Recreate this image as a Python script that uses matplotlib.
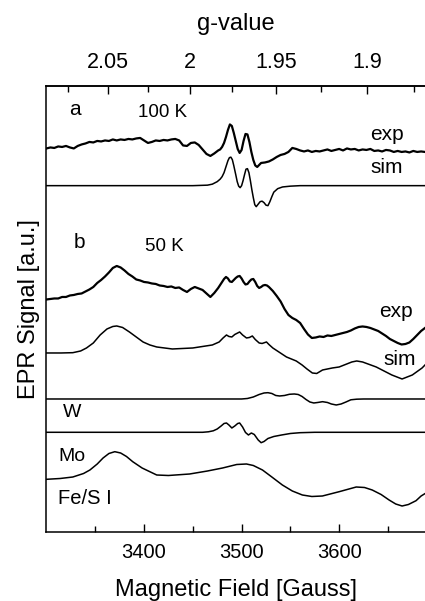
"""Stacked EPR spectra: 100 K and 50 K experiment vs. simulation, with components."""

from __future__ import annotations

import matplotlib

matplotlib.use("Agg")

import matplotlib.pyplot as plt
import numpy as np

# g = G_CONST / field  (Gauss)
G_CONST = 6894.0

# --- a: 100 K, values in a.u. above each trace's own zero level -------------
field_a_exp = [
    3300, 3304, 3308, 3312, 3316, 3320, 3324, 3328, 3332, 3336, 3340, 3344,
    3348, 3352, 3356, 3360, 3364, 3368, 3372, 3376, 3380, 3384, 3388, 3392,
    3396, 3400, 3404, 3408, 3412, 3416, 3420, 3424, 3428, 3432, 3436, 3440,
    3444, 3448, 3452, 3456, 3460, 3464, 3468, 3472, 3476, 3478, 3480, 3482,
    3484, 3486, 3488, 3490, 3492, 3494, 3496, 3498, 3500, 3502, 3504, 3506,
    3508, 3510, 3512, 3514, 3516, 3518, 3520, 3524, 3528, 3532, 3536, 3540,
    3544, 3548, 3552, 3556, 3560, 3564, 3568, 3572, 3576, 3580, 3584, 3588,
    3592, 3596, 3600, 3604, 3608, 3612, 3616, 3620, 3624, 3628, 3632, 3636,
    3640, 3644, 3648, 3652, 3656, 3660, 3664, 3668, 3672, 3676, 3680, 3684,
    3688,
]
signal_a_exp = [
    1.5, 2.5, 2.0, 3.5, 3.0, 4.0, 2.5, 1.5, 4.0, 5.5, 6.5, 8.0,
    7.5, 9.0, 8.5, 9.5, 9.0, 10.5, 9.5, 10.5, 10.0, 11.0, 10.5, 11.5,
    12.0, 9.5, 7.0, 8.0, 9.5, 9.0, 10.0, 9.5, 10.5, 11.0, 9.5, 4.5,
    4.0, 7.0, 7.5, 5.0, 0.5, -4.0, -6.0, -3.5, -0.5, 0.5, 3.0, 7.0,
    13.0, 20.0, 25.5, 24.0, 17.0, 9.0, 1.0, -3.0, 0.0, 9.0, 16.0, 15.5,
    8.0, -2.0, -10.0, -15.5, -17.0, -15.0, -13.0, -12.5, -11.5, -9.5, -7.0, -5.0,
    -4.0, -2.0, 2.0, 1.0, -0.5, -1.5, -0.5, -2.0, -1.0, -1.5, -0.5, 0.5,
    -1.0, 0.0, 1.0, -0.5, 1.5, 0.5, 1.0, -0.5, 0.5, 0.0, 1.0, -1.0,
    -0.5, -1.5, 0.0, -0.5, -2.0, -1.0, -2.0, -1.5, -2.5, -1.0, -2.0, -1.5,
    -2.0,
]
field_a_sim = [
    3300, 3450, 3465, 3470, 3475, 3478, 3480, 3482, 3484, 3486, 3487.5, 3489,
    3490.5, 3492, 3494, 3495.5, 3497, 3498.5, 3500, 3501.5, 3503, 3504.5, 3506,
    3507.5, 3509, 3510.5, 3512, 3513.5, 3515, 3517, 3519, 3521, 3523, 3525,
    3527, 3529, 3531, 3533, 3537, 3542, 3550, 3560, 3688,
]
signal_a_sim = [
    0.0, 0.0, 0.5, 1.5, 4.0, 6.5, 9.0, 13.0, 19.0, 25.0, 28.0, 28.5,
    26.0, 20.0, 11.0, 4.0, -0.5, -2.0, 0.0, 5.0, 11.0, 16.5, 17.0,
    13.0, 5.0, -4.0, -12.0, -19.0, -21.0, -18.5, -16.0, -15.5, -17.0, -19.5,
    -20.0, -16.0, -11.0, -6.5, -3.0, -1.3, -0.5, 0.0, 0.0,
]

# --- b: 50 K ------------------------------------------------------------------
field_b_exp = [
    3300, 3304, 3308, 3312, 3316, 3320, 3324, 3328, 3332, 3336, 3340, 3344,
    3348, 3352, 3356, 3360, 3364, 3368, 3372, 3376, 3380, 3384, 3388, 3392,
    3396, 3400, 3404, 3408, 3412, 3416, 3420, 3424, 3428, 3432, 3436, 3440,
    3444, 3448, 3452, 3456, 3460, 3464, 3468, 3472, 3476, 3478, 3480, 3482,
    3484, 3486, 3488, 3490, 3492, 3494, 3496, 3498, 3500, 3502, 3504, 3506,
    3508, 3510, 3512, 3514, 3516, 3518, 3520, 3522, 3524, 3526, 3528, 3530,
    3532, 3536, 3540, 3544, 3548, 3552, 3556, 3560, 3564, 3568, 3572, 3576,
    3580, 3584, 3588, 3592, 3596, 3600, 3604, 3608, 3612, 3616, 3620, 3624,
    3628, 3632, 3636, 3640, 3644, 3648, 3652, 3656, 3660, 3664, 3668, 3672,
    3676, 3680, 3684, 3688,
]
signal_b_exp = [
    -0.5, 0.0, 0.5, 0.5, 2.0, 2.0, 3.5, 4.0, 5.0, 5.5, 7.5, 9.5,
    12.0, 16.0, 19.0, 22.5, 26.5, 31.0, 33.0, 31.5, 28.5, 25.0, 22.5, 19.5,
    18.5, 17.0, 16.5, 15.5, 15.0, 13.5, 13.0, 12.0, 12.5, 11.0, 11.5, 9.0,
    7.0, 10.0, 12.0, 10.5, 9.0, 5.5, 2.0, 6.0, 11.0, 14.0, 17.0, 20.0,
    22.0, 20.5, 17.5, 17.0, 19.0, 21.0, 22.5, 23.0, 20.5, 17.0, 14.5, 15.0,
    17.5, 19.5, 20.0, 17.0, 13.0, 11.0, 12.0, 13.5, 14.0, 13.5, 12.0, 10.0,
    8.0, 3.0, -2.5, -10.0, -16.0, -19.0, -21.0, -24.0, -30.0, -35.5, -39.0, -38.5,
    -37.5, -38.0, -36.5, -37.0, -36.0, -35.0, -34.0, -33.0, -31.5, -29.5, -28.0, -27.5,
    -28.0, -29.0, -30.5, -32.0, -34.5, -37.0, -40.0, -42.0, -44.0, -45.5, -45.0, -43.5,
    -40.0, -36.0, -32.0, -29.0,
]
field_b_sim = [
    3300, 3315, 3327, 3335, 3341, 3348, 3355, 3362, 3368, 3372, 3378, 3385,
    3392, 3399, 3406, 3413, 3429, 3450, 3470, 3477, 3481, 3484.5, 3487, 3490,
    3493, 3498, 3501, 3505, 3508, 3511, 3514, 3518, 3521, 3525.5, 3528, 3532,
    3546, 3556, 3562, 3567, 3572.5, 3577, 3583, 3593, 3600, 3613, 3618, 3624,
    3638, 3654, 3664.5, 3675, 3685, 3689,
]
signal_b_sim = [
    0.0, 0.0, 0.3, 2.0, 5.0, 10.0, 18.0, 24.0, 26.5, 27.0, 25.5, 21.0,
    16.0, 11.0, 8.0, 6.0, 4.0, 5.0, 8.0, 11.0, 15.0, 18.0, 16.5, 16.0,
    18.5, 21.0, 18.0, 15.0, 15.5, 17.0, 13.5, 10.0, 9.5, 11.0, 8.5, 5.0,
    -4.0, -8.0, -12.0, -16.0, -20.0, -20.5, -17.0, -15.0, -14.0, -9.0, -8.0, -9.0,
    -14.0, -22.0, -26.0, -22.0, -15.0, -11.0,
]

# --- components ---------------------------------------------------------------
field_w = [
    3300, 3500, 3506, 3512, 3518, 3523, 3527, 3531, 3535, 3539, 3544, 3549,
    3554, 3558, 3562, 3566, 3570, 3574, 3578, 3583, 3588, 3592, 3597, 3602,
    3607, 3612, 3618, 3625, 3688,
]
signal_w = [
    0.0, 0.0, 0.5, 2.0, 4.5, 6.0, 6.3, 5.5, 3.5, 3.0, 3.5, 4.7,
    5.0, 4.5, 2.5, -0.5, -3.0, -4.0, -3.5, -2.7, -3.5, -5.0, -6.0, -5.0,
    -3.0, -0.8, -0.2, 0.0, 0.0,
]
field_mo = [
    3300, 3460, 3466, 3471, 3475, 3479, 3482, 3484.5, 3487, 3490, 3493, 3496,
    3498, 3501, 3504, 3507, 3510, 3513, 3517, 3520, 3523, 3527, 3533, 3541,
    3550, 3560, 3575, 3688,
]
signal_mo = [
    0.0, 0.0, 0.5, 1.5, 3.3, 6.3, 8.8, 9.3, 7.3, 4.3, 6.3, 8.8,
    9.3, 5.3, -0.2, -2.7, -0.7, -2.2, -7.7, -10.4, -9.2, -6.2, -4.2, -2.7,
    -1.2, -0.4, 0.0, 0.0,
]
field_fes = [
    3300, 3314, 3327, 3338, 3344.5, 3352, 3358, 3364, 3370, 3376, 3382, 3388.4,
    3398, 3413, 3425, 3446.7, 3465, 3480.5, 3495, 3505, 3512, 3521.4, 3531,
    3541.8, 3552, 3562.3, 3572, 3582.8, 3600, 3617.5, 3626, 3633.9, 3643,
    3651.2, 3658, 3664.5, 3671, 3678.8, 3684, 3689,
]
signal_fes = [
    0.0, 0.8, 2.3, 5.8, 9.3, 15.3, 21.3, 25.8, 27.6, 26.3, 22.8, 17.6,
    11.3, 4.3, 3.8, 5.3, 8.3, 11.3, 14.8, 15.3, 13.8, 9.3, 2.3,
    -5.7, -11.7, -15.7, -17.2, -16.7, -12.4, -7.7, -8.2, -10.7, -15.2,
    -20.7, -24.7, -26.7, -25.2, -21.4, -16.7, -13.7,
]

# (field, signal, is_experimental)
traces = [
    (field_a_exp, signal_a_exp, True),
    (field_a_sim, signal_a_sim, False),
    (field_b_exp, signal_b_exp, True),
    (field_b_sim, signal_b_sim, False),
    (field_w, signal_w, False),
    (field_mo, signal_mo, False),
    (field_fes, signal_fes, False),
]
# vertical stacking offsets of each trace (same units as the signals)
offsets = [382.0, 346.3, 233.0, 179.0, 133.0, 99.7, 52.7]

g_ticks = [2.05, 2.0, 1.95, 1.9]
g_tick_labels = ["2.05", "2", "1.95", "1.9"]
g_minor = [2.075, 2.025, 1.975, 1.925, 1.875]


def field_to_g(field):
    field = np.asarray(field, dtype=float)
    return G_CONST / np.where(field == 0, 1e-9, field)


def g_to_field(g):
    g = np.asarray(g, dtype=float)
    return G_CONST / np.where(g == 0, 1e-9, g)


def main() -> None:
    plt.rcParams["font.family"] = ["Liberation Sans", "DejaVu Sans"]

    fig = plt.figure(figsize=(4.25, 6.01), dpi=100)
    axis = fig.add_axes([0.1094, 0.1148, 0.8906, 0.7422])

    for (field, signal, is_exp), offset in zip(traces, offsets):
        axis.plot(field, np.asarray(signal) + offset, color="black",
                  lw=1.6 if is_exp else 1.1)

    axis.set_xlim(3300, 3688)
    axis.set_ylim(0, 446)
    axis.set_yticks([])
    axis.spines["right"].set_visible(False)
    for side in ("left", "top", "bottom"):
        axis.spines[side].set_linewidth(1.1)

    axis.set_xticks([3400, 3500, 3600])
    axis.set_xticks([3350, 3450, 3550, 3650], minor=True)
    axis.tick_params(axis="x", which="major", direction="in", length=6,
                     width=1.0, labelsize=14.5, pad=8)
    axis.tick_params(axis="x", which="minor", direction="in", length=4, width=1.0)
    axis.set_xlabel("Magnetic Field [Gauss]", fontsize=17, labelpad=12)
    axis.set_ylabel("EPR Signal [a.u.]", fontsize=17, labelpad=5)

    top = axis.secondary_xaxis("top", functions=(field_to_g, g_to_field))
    top.set_xticks(g_ticks, labels=g_tick_labels)
    top.set_xticks(g_minor, minor=True)
    top.tick_params(axis="x", which="major", direction="in", length=6,
                    width=1.0, labelsize=15.5, pad=9)
    top.tick_params(axis="x", which="minor", direction="in", length=4, width=1.0)
    top.spines["top"].set_linewidth(1.1)
    top.set_xlabel("g-value", fontsize=17, labelpad=16)

    # panel annotations
    axis.text(3329, 422, "a", fontsize=15, ha="center", va="center")
    axis.text(3419, 419, "100 K", fontsize=13.5, ha="center", va="center")
    axis.text(3649, 397, "exp", fontsize=15, ha="center", va="center")
    axis.text(3649, 364, "sim", fontsize=15, ha="center", va="center")
    axis.text(3334, 289, "b", fontsize=15, ha="center", va="center")
    axis.text(3421, 285, "50 K", fontsize=13.5, ha="center", va="center")
    axis.text(3658, 220, "exp", fontsize=15, ha="center", va="center")
    axis.text(3662, 172, "sim", fontsize=15, ha="center", va="center")
    axis.text(3317, 119, "W", fontsize=14, ha="left", va="center")
    axis.text(3312, 75, "Mo", fontsize=14, ha="left", va="center")
    axis.text(3312, 34, "Fe/S I", fontsize=14.5, ha="left", va="center")

    fig.savefig("out.png", dpi=100)
    plt.close(fig)


if __name__ == "__main__":
    main()
